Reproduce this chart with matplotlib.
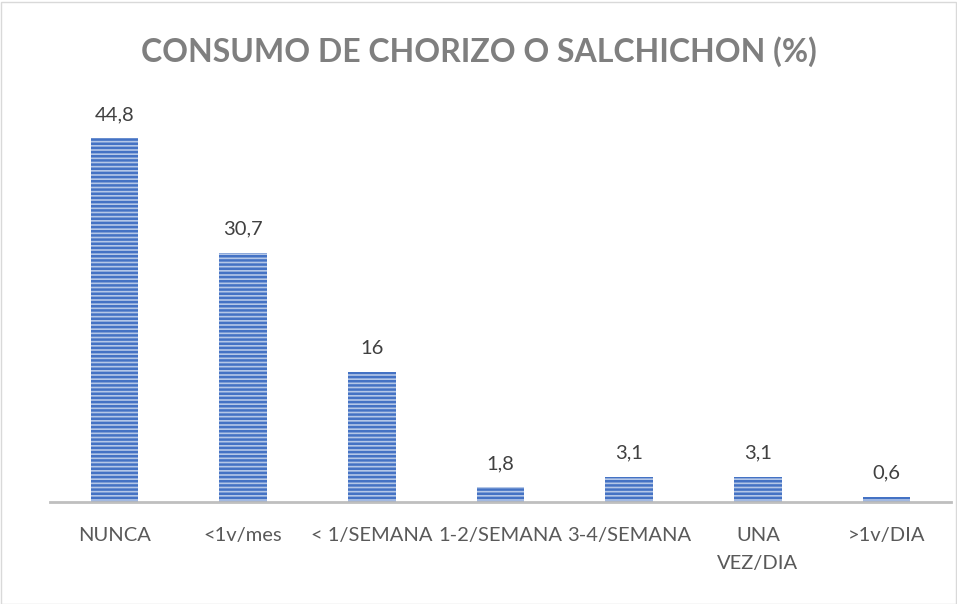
import matplotlib
matplotlib.use("Agg")
import matplotlib.pyplot as plt
from matplotlib.patches import Rectangle

categories = ['NUNCA', '<1v/mes', '< 1/SEMANA', '1-2/SEMANA', '3-4/SEMANA', 'UNA\nVEZ/DIA', '>1v/DIA']
values = [44.8, 30.7, 16, 1.8, 3.1, 3.1, 0.6]
title = 'CONSUMO DE CHORIZO O SALCHICHON (%)'

plt.rcParams['hatch.color'] = '#4472C4'
plt.rcParams['hatch.linewidth'] = 1.8

fig = plt.figure(figsize=(9.57, 6.04), dpi=100)
ax = fig.add_axes([50/957, 1 - 502/604, 901/957, (502-96)/604])

x = list(range(len(categories)))
bars = ax.bar(x, values, width=0.37, color='#B4C7E7', edgecolor='#4472C4', linewidth=0,
              hatch='----')
ax.set_xlim(-0.5, len(categories) - 0.5)
ax.set_ylim(0, 50)

for xi, v in zip(x, values):
    ax.annotate(f"{v:g}".replace('.', ','), (xi, v), xytext=(0, 11), textcoords='offset points',
                ha='center', va='bottom', fontsize=14.5, color='#404040', family='Lato')

ax.set_xticks(x)
ax.set_xticklabels(categories, fontsize=14.5, color='#595959', family='Lato', linespacing=1.75)
ax.tick_params(axis='x', length=0, pad=18)
ax.set_yticks([])
for s in ['top', 'right', 'left']:
    ax.spines[s].set_visible(False)
ax.spines['bottom'].set_color('#BFBFBF')
ax.spines['bottom'].set_linewidth(2)

fig.text(0.5, 1 - 52/604, title, ha='center', va='center', fontsize=23, fontweight='bold',
         color='#7F7F7F', family='Lato')

fig.patches.append(Rectangle((0.5/957, 0.5/604), 1 - 2/957, 1 - 2/604, transform=fig.transFigure,
                             fill=False, edgecolor='#D9D9D9', linewidth=1))

fig.savefig('out.png', dpi=100)
